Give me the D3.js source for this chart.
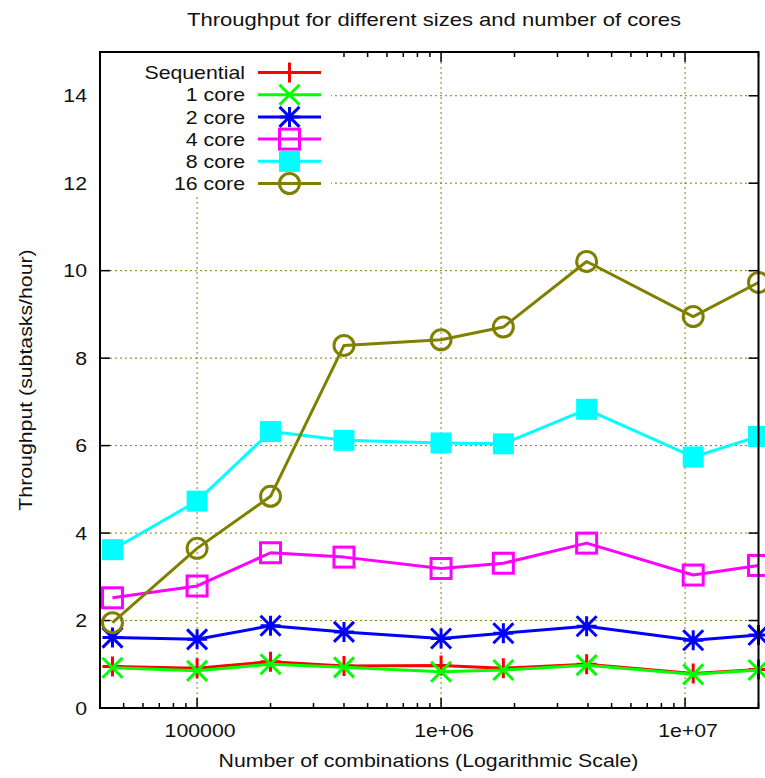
<!DOCTYPE html>
<html>
<head>
<meta charset="utf-8">
<script src="https://cdn.jsdelivr.net/npm/d3@7"></script>
<style>
  html, body { margin: 0; padding: 0; background: #fff; }
  svg text { font-family: "Liberation Sans", Arial, Helvetica, sans-serif; fill: #111; }
</style>
</head>
<body>
<svg id="chart" width="765" height="778"></svg>
<script>
// Problem sizes (number of combinations) and measured throughput per configuration
const combinations = [45000, 100000, 200000, 400000, 1000000, 1800000, 3950000, 10800000, 20000000];
const sequential   = [0.95, 0.91, 1.06, 0.96, 0.97, 0.91, 1.00, 0.79, 0.88];
const core1        = [0.92, 0.85, 1.00, 0.93, 0.83, 0.87, 0.98, 0.77, 0.87];
const core2        = [1.61, 1.57, 1.88, 1.74, 1.59, 1.71, 1.87, 1.55, 1.67];
const core4        = [2.52, 2.79, 3.55, 3.45, 3.19, 3.31, 3.77, 3.04, 3.26];
const core8        = [3.62, 4.73, 6.32, 6.12, 6.06, 6.04, 6.83, 5.74, 6.21];
const core16       = [1.95, 3.65, 4.84, 8.29, 8.42, 8.71, 10.21, 8.95, 9.73];

const seriesNames  = ["Sequential", "1 core", "2 core", "4 core", "8 core", "16 core"];
const seriesValues = [sequential, core1, core2, core4, core8, core16];
const seriesColors = ["#ff0000", "#00ff00", "#0000ff", "#ff00ff", "#00ffff", "#808000"];
const seriesMarks  = ["plus", "cross", "star", "openSquare", "filledSquare", "openCircle"];

const yTicks = [0, 2, 4, 6, 8, 10, 12, 14];
const xMajorTicks = [100000, 1000000, 10000000];
const xTickLabels = ["100000", "1e+06", "1e+07"];

const W = 765, H = 778;
const plot = { left: 100, right: 758.5, top: 52, bottom: 708 };
const STRETCH = 1.15;

const svg = d3.select("#chart");
svg.append("rect").attr("width", W).attr("height", H).attr("fill", "#fff");

const x = d3.scaleLog().domain([40000, 20000000]).range([plot.left, plot.right]);
const y = d3.scaleLinear().domain([0, 15]).range([plot.bottom, plot.top]);

// widen glyphs horizontally so the text matches the wide plotting font
function widen(sel, k) {
  sel.each(function () {
    const w = this.getComputedTextLength();
    d3.select(this).attr("textLength", w * k).attr("lengthAdjust", "spacingAndGlyphs");
  });
}

// grid
const grid = svg.append("g")
  .attr("stroke", "#808000").attr("stroke-width", 1)
  .attr("stroke-dasharray", "2,3").attr("fill", "none");
yTicks.filter(v => v > 0).forEach(v => {
  grid.append("line").attr("x1", plot.left).attr("x2", plot.right)
    .attr("y1", y(v)).attr("y2", y(v));
});
xMajorTicks.forEach(v => {
  grid.append("line").attr("y1", plot.top).attr("y2", plot.bottom)
    .attr("x1", x(v)).attr("x2", x(v));
});

// ticks on all four sides, pointing inward
const ticks = svg.append("g").attr("stroke", "#000").attr("stroke-width", 1.5);
yTicks.forEach(v => {
  ticks.append("line").attr("x1", plot.left).attr("x2", plot.left + 10).attr("y1", y(v)).attr("y2", y(v));
  ticks.append("line").attr("x1", plot.right).attr("x2", plot.right - 10).attr("y1", y(v)).attr("y2", y(v));
});
const minorTicks = [];
for (let e = 4; e <= 7; e++) {
  for (let m = 1; m <= 9; m++) {
    const v = m * Math.pow(10, e);
    if (v >= 40000 && v <= 20000000) minorTicks.push(v);
  }
}
minorTicks.forEach(v => {
  const len = xMajorTicks.includes(v) ? 10 : 5;
  ticks.append("line").attr("x1", x(v)).attr("x2", x(v)).attr("y1", plot.bottom).attr("y2", plot.bottom - len);
  ticks.append("line").attr("x1", x(v)).attr("x2", x(v)).attr("y1", plot.top).attr("y2", plot.top + len);
});

// tick labels
svg.append("g").selectAll("text").data(yTicks).join("text")
  .attr("x", 87).attr("y", d => y(d)).attr("dy", "0.36em")
  .attr("text-anchor", "end").attr("font-size", 18.5)
  .text(d => d).call(widen, STRETCH);
svg.append("g").selectAll("text").data(xMajorTicks).join("text")
  .attr("x", d => x(d) + 3).attr("y", 736.5)
  .attr("text-anchor", "middle").attr("font-size", 18.5)
  .text((d, i) => xTickLabels[i]).call(widen, STRETCH);

// titles
svg.append("text").attr("x", 434).attr("y", 26).attr("text-anchor", "middle")
  .attr("font-size", 18.5).text("Throughput for different sizes and number of cores")
  .call(widen, 1.19);
svg.append("text").attr("x", 428.5).attr("y", 767).attr("text-anchor", "middle")
  .attr("font-size", 18.5).text("Number of combinations (Logarithmic Scale)")
  .call(widen, STRETCH);
svg.append("text").attr("transform", "translate(31.5,380) rotate(-90)")
  .attr("text-anchor", "middle").attr("font-size", 18.5)
  .text("Throughput (subtasks/hour)").call(widen, STRETCH);

// marker shapes
function drawMark(g, kind, color) {
  const s = 10;
  if (kind === "plus") {
    g.append("path").attr("d", `M${-s},0H${s}M0,${-s}V${s}`).attr("stroke", color).attr("stroke-width", 3).attr("fill", "none");
  } else if (kind === "cross") {
    g.append("path").attr("d", `M${-s},${-s}L${s},${s}M${-s},${s}L${s},${-s}`).attr("stroke", color).attr("stroke-width", 3).attr("fill", "none");
  } else if (kind === "star") {
    g.append("path").attr("d", `M${-s},0H${s}M0,${-s}V${s}M${-s},${-s}L${s},${s}M${-s},${s}L${s},${-s}`).attr("stroke", color).attr("stroke-width", 3).attr("fill", "none");
  } else if (kind === "openSquare") {
    g.append("rect").attr("x", -s).attr("y", -s).attr("width", 2 * s).attr("height", 2 * s).attr("stroke", color).attr("stroke-width", 3).attr("fill", "none");
  } else if (kind === "filledSquare") {
    g.append("rect").attr("x", -s - 0.5).attr("y", -s - 0.5).attr("width", 2 * s + 1).attr("height", 2 * s + 1).attr("fill", color);
  } else if (kind === "openCircle") {
    g.append("circle").attr("r", s).attr("stroke", color).attr("stroke-width", 3).attr("fill", "none");
  }
}

// legend (opaque background hides the grid behind it)
const legend = svg.append("g");
legend.append("rect").attr("x", plot.left + 1).attr("y", plot.top + 1)
  .attr("width", 230).attr("height", 142).attr("fill", "#fff");
seriesNames.forEach((name, i) => {
  const ly = 72.5 + i * 22.2;
  legend.append("text").attr("x", 245).attr("y", ly).attr("dy", "0.36em")
    .attr("text-anchor", "end").attr("font-size", 18.5).text(name).call(widen, STRETCH);
  legend.append("line").attr("x1", 258).attr("x2", 321).attr("y1", ly).attr("y2", ly)
    .attr("stroke", seriesColors[i]).attr("stroke-width", 3);
  drawMark(legend.append("g").attr("transform", `translate(289.5,${ly})`), seriesMarks[i], seriesColors[i]);
});

// series lines and markers
const line = d3.line().x(d => x(d[0])).y(d => y(d[1]));
seriesValues.forEach((vals, i) => {
  const pts = combinations.map((c, j) => [c, vals[j]]);
  const g = svg.append("g");
  g.append("path").attr("d", line(pts)).attr("fill", "none")
    .attr("stroke", seriesColors[i]).attr("stroke-width", 3).attr("stroke-linejoin", "round");
  pts.forEach(p => {
    drawMark(g.append("g").attr("transform", `translate(${x(p[0])},${y(p[1])})`), seriesMarks[i], seriesColors[i]);
  });
});

// plot border
svg.append("rect").attr("x", plot.left).attr("y", plot.top)
  .attr("width", plot.right - plot.left).attr("height", plot.bottom - plot.top)
  .attr("fill", "none").attr("stroke", "#000").attr("stroke-width", 2);
</script>
</body>
</html>
